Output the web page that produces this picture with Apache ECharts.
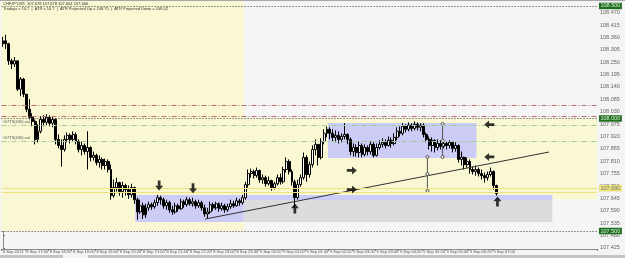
<!DOCTYPE html>
<html><head><meta charset="utf-8">
<script src="https://cdn.jsdelivr.net/npm/echarts@6/dist/echarts.min.js"></script>
<style>html,body{margin:0;padding:0;background:#f4f4f4;}#c{width:625px;height:258px;}</style>
</head><body><div id="c"></div>
<script>
// ---------- data ----------
const xTickLabels = ['8 Sep 2013','8 Sep 17:40','8 Sep 18:20','8 Sep 19:00','8 Sep 19:40','8 Sep 20:20','8 Sep 21:00','8 Sep 21:40','8 Sep 22:20','8 Sep 23:00','8 Sep 23:40','9 Sep 00:20','9 Sep 01:00','9 Sep 01:40','9 Sep 02:20','9 Sep 03:00','9 Sep 03:40','9 Sep 04:20','9 Sep 05:00','9 Sep 05:40','9 Sep 06:20','9 Sep 07:00'];
const yTickValues = [107.425,107.480,107.535,107.590,107.645,107.700,107.755,107.810,107.865,107.920,107.975,108.030,108.085,108.140,108.195,108.250,108.305,108.360,108.415,108.470];
const firstOpen = 108.332;
const closes = [108.345,108.332,108.256,108.242,108.256,108.130,108.175,108.108,108.041,108.005,107.987,107.907,107.943,107.996,107.983,108.005,107.979,107.996,107.907,107.880,
107.862,107.907,107.925,107.907,107.929,107.898,107.862,107.880,107.853,107.871,107.827,107.836,107.804,107.818,107.791,107.809,107.773,107.657,107.693,107.715,
107.675,107.702,107.684,107.661,107.693,107.639,107.585,107.612,107.572,107.603,107.617,107.608,107.626,107.648,107.639,107.612,107.626,107.594,107.585,107.612,
107.599,107.630,107.617,107.639,107.621,107.630,107.612,107.626,107.603,107.576,107.585,107.617,107.603,107.621,107.599,107.612,107.594,107.608,107.621,107.612,
107.634,107.626,107.648,107.706,107.755,107.764,107.746,107.769,107.728,107.737,107.710,107.724,107.693,107.710,107.737,107.719,107.773,107.809,107.764,107.719,
107.648,107.706,107.737,107.827,107.751,107.795,107.862,107.885,107.827,107.898,107.934,107.952,107.934,107.916,107.925,107.907,107.920,107.929,107.907,107.853,
107.871,107.849,107.880,107.840,107.871,107.853,107.885,107.836,107.871,107.885,107.894,107.880,107.903,107.889,107.916,107.943,107.934,107.965,107.952,107.970,
107.956,107.974,107.961,107.970,107.929,107.907,107.880,107.903,107.871,107.889,107.876,107.889,107.880,107.894,107.867,107.880,107.818,107.827,107.795,107.809,
107.773,107.764,107.773,107.755,107.746,107.737,107.751,107.764,107.702,107.666];
const highs = [108.363,108.372,108.336,108.265,108.273,108.256,108.184,108.180,108.108,108.086,108.023,107.996,107.974,108.010,108.014,108.019,108.014,108.010,108.001,107.929,
107.907,107.925,107.938,107.934,107.943,107.938,107.907,107.898,107.889,107.943,107.876,107.853,107.844,107.836,107.827,107.822,107.818,107.795,107.728,107.737,
107.719,107.719,107.710,107.702,107.710,107.697,107.648,107.639,107.626,107.621,107.630,107.626,107.639,107.661,107.657,107.648,107.639,107.634,107.612,107.626,
107.621,107.643,107.639,107.652,107.648,107.648,107.639,107.639,107.634,107.617,107.603,107.630,107.626,107.630,107.626,107.626,107.621,107.621,107.639,107.634,
107.648,107.643,107.661,107.719,107.773,107.777,107.773,107.782,107.773,107.751,107.746,107.742,107.728,107.719,107.751,107.755,107.786,107.827,107.818,107.773,
107.728,107.728,107.751,107.849,107.836,107.809,107.880,107.907,107.885,107.912,107.952,107.965,107.961,107.952,107.947,107.943,107.934,107.979,107.934,107.916,
107.889,107.885,107.898,107.889,107.885,107.880,107.898,107.894,107.889,107.903,107.912,107.907,107.920,107.916,107.934,107.961,107.965,107.979,107.974,107.983,
107.979,107.987,107.983,107.979,107.979,107.938,107.920,107.916,107.907,107.907,107.903,107.907,107.898,107.903,107.898,107.894,107.885,107.853,107.831,107.827,
107.818,107.786,107.791,107.782,107.773,107.760,107.764,107.782,107.769,107.706];
const lows = [108.318,108.309,108.238,108.220,108.229,108.122,108.099,108.095,108.028,107.996,107.965,107.885,107.894,107.934,107.965,107.970,107.965,107.961,107.885,107.867,
107.786,107.853,107.894,107.889,107.898,107.885,107.849,107.836,107.840,107.773,107.809,107.813,107.791,107.782,107.773,107.773,107.760,107.639,107.648,107.675,
107.657,107.648,107.657,107.643,107.648,107.621,107.550,107.576,107.554,107.558,107.590,107.594,107.599,107.612,107.617,107.599,107.594,107.581,107.572,107.576,
107.585,107.594,107.603,107.608,107.612,107.608,107.599,107.603,107.590,107.563,107.554,107.576,107.590,107.594,107.585,107.590,107.581,107.585,107.599,107.603,
107.608,107.612,107.617,107.639,107.693,107.737,107.733,107.737,107.715,107.710,107.697,107.702,107.679,107.684,107.702,107.706,107.710,107.760,107.751,107.702,
107.603,107.639,107.697,107.728,107.719,107.737,107.782,107.836,107.791,107.818,107.885,107.916,107.907,107.898,107.894,107.889,107.894,107.907,107.885,107.836,
107.831,107.831,107.827,107.827,107.831,107.836,107.840,107.827,107.831,107.862,107.871,107.867,107.876,107.871,107.880,107.903,107.920,107.925,107.938,107.943,
107.943,107.947,107.947,107.943,107.916,107.894,107.862,107.853,107.849,107.858,107.862,107.867,107.862,107.867,107.849,107.853,107.804,107.791,107.773,107.782,
107.755,107.751,107.746,107.742,107.728,107.715,107.724,107.742,107.684,107.657];

// horizontal levels
const roundLevels = [108.500, 108.000, 107.500];
const redLevels = [108.064, 108.007];
const greenLevels = [107.967, 107.900];
const greenLevelText = '#07TS(030).val';
const yellowLevels = [107.693, 107.666];

// zones: [x1, y1, x2, y2] in (bar index, price)
const yellowZones = [[-0.5, 108.522, 82.5, 107.500], [82.5, 108.000, 203.5, 107.640]];
const blueZones = [[45.3, 107.660, 82.5, 107.540], [82.5, 107.660, 188.2, 107.638], [111.3, 107.980, 162.2, 107.824]];
const grayZones = [[82.5, 107.638, 188.2, 107.540]];
const trendLine = [[69.2, 107.553], [187.1, 107.851]];
const measureLines = [[[145.4, 107.829], [145.4, 107.753], [145.4, 107.678]], [[150.6, 107.976], [150.6, 107.902], [150.6, 107.829]]];
const arrowsUp = [[100, 107.600], [169.4, 107.631]];
const arrowsDown = [[53.5, 107.702], [65.1, 107.690]];
const arrowsRight = [[119.5, 107.769], [119.5, 107.684]];
const arrowsLeft = [[166.6, 107.973], [166.6, 107.829]];
const headerLine1 = 'CHFJPY,M5  107.678 107.678 107.664 107.666';
const headerLine2 = 'Tradays v 10.7  |  ATR v 10.7  |  ATR Projected Up = 108.75  |  ATR Projected Down = 108.42';

// ---------- build ----------
const SLOTS = 204;
const categories = [];
{
  const t0 = Date.UTC(2013, 8, 8, 17, 0);
  for (let i = 0; i < SLOTS; i++) {
    const d = new Date(t0 + i * 300000);
    categories.push(d.getUTCDate() + ' Sep ' + String(d.getUTCHours()).padStart(2,'0') + ':' + String(d.getUTCMinutes()).padStart(2,'0'));
  }
}
const candles = closes.map((c, i) => {
  const o = i === 0 ? firstOpen : closes[i - 1];
  return [o, c, Math.min(lows[i], o, c), Math.max(highs[i], o, c)];
});
const lastClose = closes[closes.length - 1];

const zoneItem = (z, color) => [{coord: [z[0], z[1]], itemStyle: {color: color}}, {coord: [z[2], z[3]]}];
const showTick = (idx) => idx % 8 === 0 && idx / 8 < xTickLabels.length;
const labelBox = (bg, fg) => ({show: true, position: 'end', distance: 2, fontSize: 5.5, fontFamily: 'Liberation Sans', color: fg, backgroundColor: bg, padding: [0.5, 1.5, 0, 1.5], formatter: (p) => p.value.toFixed(3)});

const arrowPath = 'path://M0,3.3L5.2,3.3L5.2,0L10,5L5.2,10L5.2,6.7L0,6.7Z';
const arrowData = [].concat(
  arrowsRight.map(p => ({value: p, symbolRotate: 0})),
  arrowsLeft.map(p => ({value: p, symbolRotate: 180})),
  arrowsUp.map(p => ({value: p, symbolRotate: 90})),
  arrowsDown.map(p => ({value: p, symbolRotate: -90}))
);

const chart = echarts.init(document.getElementById('c'), null, {renderer: 'canvas'});
chart.setOption({
  animation: false,
  backgroundColor: '#f4f4f4',
  textStyle: {fontFamily: 'Liberation Sans'},
  grid: {left: 0, right: 28, top: 1, bottom: 9, show: true, backgroundColor: '#f5f5f5', borderWidth: 0},
  xAxis: [{
    type: 'category', data: categories, boundaryGap: true,
    axisLine: {show: true, lineStyle: {color: '#8a8a8a', width: 1}},
    axisTick: {show: true, interval: showTick, length: 2, lineStyle: {color: '#777'}},
    axisLabel: {interval: showTick, formatter: (v, idx) => xTickLabels[idx / 8], fontSize: 4, color: '#555', align: 'left', margin: 1},
    splitLine: {show: false}
  }, {
    type: 'value', min: -0.5, max: SLOTS - 0.5, show: false
  }],
  yAxis: {
    type: 'value', position: 'right', min: 107.420, max: 108.522, scale: true,
    axisLine: {show: true, lineStyle: {color: '#8a8a8a', width: 1}},
    axisTick: {show: true, customValues: yTickValues, length: 2, lineStyle: {color: '#777'}},
    axisLabel: {customValues: yTickValues, formatter: v => v.toFixed(3), fontSize: 5.5, color: '#666', margin: 3},
    splitLine: {show: false}
  },
  graphic: [
    {type: 'text', left: 3, top: 2, z: 100, style: {text: headerLine1, fontSize: 4, fill: '#333', fontFamily: 'Liberation Sans'}},
    {type: 'text', left: 3, top: 7, z: 100, style: {text: headerLine2, fontSize: 4, fill: '#333', fontFamily: 'Liberation Sans'}},
    {type: 'rect', left: 0, top: 255, z: 100, shape: {width: 625, height: 3}, style: {fill: '#c4c4c4'}},
    {type: 'rect', left: 63, top: 255, z: 101, shape: {width: 25, height: 3}, style: {fill: '#f4f4f4'}},
    {type: 'rect', left: 0, top: 0, z: 100, shape: {width: 625, height: 1}, style: {fill: '#a8a8a8'}}
  ],
  series: [
    {
      name: 'bg', type: 'line', xAxisIndex: 1, data: [], z: 0, silent: true,
      markArea: {silent: true, data: yellowZones.map(z => zoneItem(z, '#f9f8d3'))}
    },
    {
      name: 'zones', type: 'line', xAxisIndex: 1, data: [], z: 1, silent: true,
      markArea: {silent: true, data: [].concat(grayZones.map(z => zoneItem(z, '#dcdcdc')), blueZones.map(z => zoneItem(z, '#ccccf6')))}
    },
    {
      name: 'levels', type: 'line', xAxisIndex: 1, data: [], z: 2, silent: true,
      markLine: {
        silent: true, symbol: 'none', animation: false,
        data: [].concat(
          roundLevels.map(v => ({yAxis: v, lineStyle: {color: '#3a3a3a', type: [1, 2], width: 1}, label: labelBox('#1e6e1e', '#d8f0d8')})),
          redLevels.map(v => ({yAxis: v, lineStyle: {color: '#c07070', type: [5, 2, 1, 2], width: 1}, label: {show: false}})),
          greenLevels.map(v => ({yAxis: v, lineStyle: {color: '#9ccc9c', type: [5, 2, 1, 2], width: 1}, label: {show: true, position: 'insideStartTop', distance: 1, fontSize: 4, color: '#555', formatter: greenLevelText}})),
          yellowLevels.map((v, k) => ({yAxis: v, lineStyle: {color: '#ece27a', type: 'solid', width: 1}, label: k === 0 ? labelBox('#ece27a', '#777') : {show: false}})),
          [{yAxis: lastClose, lineStyle: {opacity: 0}, label: labelBox('#858585', '#ffffff')}]
        )
      }
    },
    {
      name: 'price', type: 'candlestick', data: candles, z: 3, barWidth: 2.4,
      itemStyle: {color: '#ffffff', color0: '#000000', borderColor: '#000000', borderColor0: '#000000', borderWidth: 1}
    },
    {
      name: 'trend', type: 'line', xAxisIndex: 1, data: trendLine, z: 4, symbol: 'none', silent: true,
      lineStyle: {color: '#333', width: 1}
    },
    ...measureLines.map(m => ({
      type: 'line', xAxisIndex: 1, data: m, z: 4, symbol: 'circle', symbolSize: 3, silent: true,
      itemStyle: {color: '#f4f4f4', borderColor: '#555', borderWidth: 1},
      lineStyle: {color: '#555', width: 1}
    })),
    {
      name: 'arrows', type: 'scatter', xAxisIndex: 1, data: arrowData, z: 5, silent: true,
      symbol: arrowPath, symbolSize: [10, 8], itemStyle: {color: '#000'}
    }
  ]
});
</script></body></html>
